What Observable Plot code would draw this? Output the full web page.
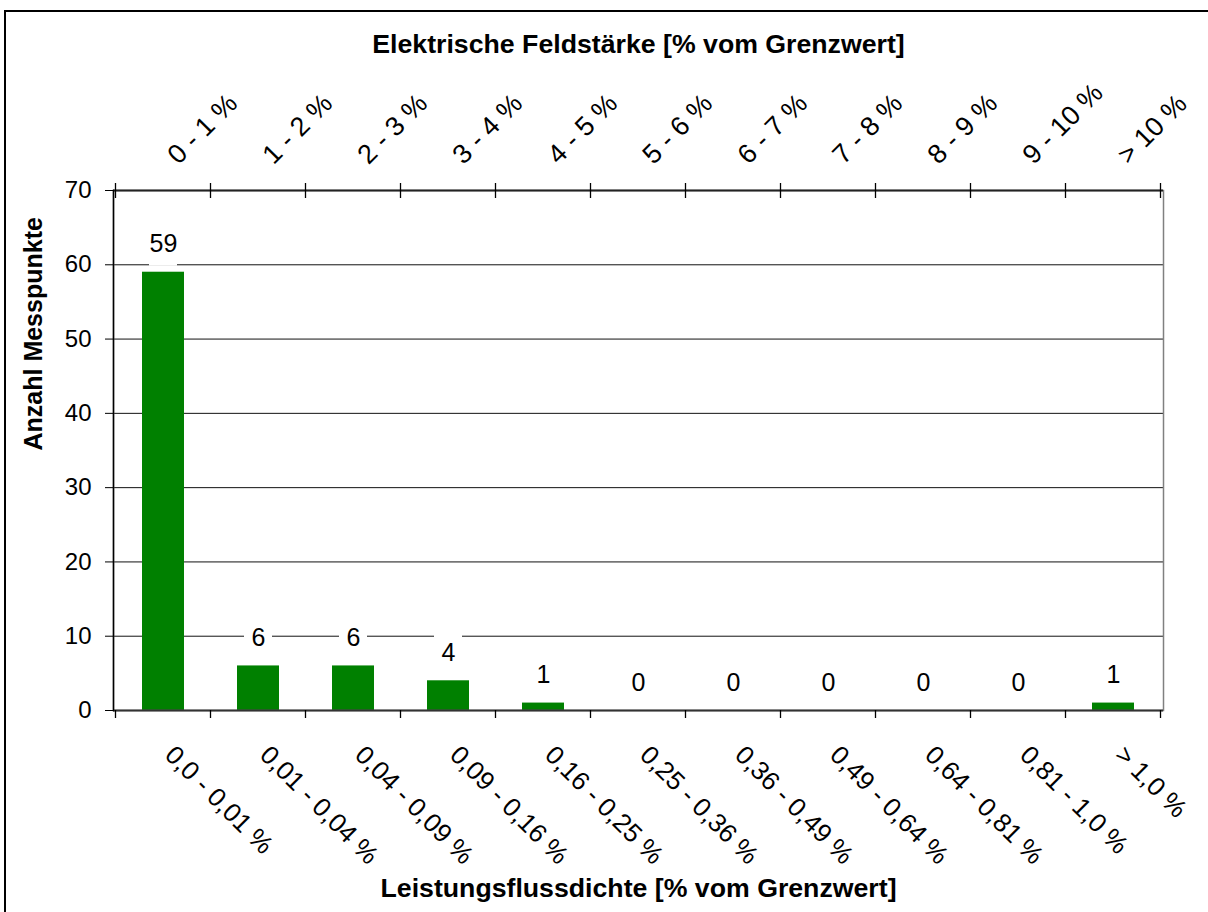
<!DOCTYPE html>
<html><head><meta charset="utf-8">
<script src="https://cdn.jsdelivr.net/npm/d3@7"></script>
<script src="https://cdn.jsdelivr.net/npm/@observablehq/plot@0.6"></script>
<style>
body{margin:0;background:#fff;overflow:hidden;}
#wrap{position:relative;width:1208px;height:912px;overflow:hidden;}
#border{position:absolute;left:4px;top:10px;width:1230px;height:940px;border:2px solid #000;box-sizing:border-box;pointer-events:none;z-index:2;}
</style></head><body><div id="wrap"><div id="border"></div></div>
<script>
const categories = ["0,0 - 0,01 %", "0,01 - 0,04 %", "0,04 - 0,09 %", "0,09 - 0,16 %", "0,16 - 0,25 %", "0,25 - 0,36 %", "0,36 - 0,49 %", "0,49 - 0,64 %", "0,64 - 0,81 %", "0,81 - 1,0 %", "> 1,0 %"];
const topLabels = ["0 - 1 %", "1 - 2 %", "2 - 3 %", "3 - 4 %", "4 - 5 %", "5 - 6 %", "6 - 7 %", "7 - 8 %", "8 - 9 %", "9 - 10 %", "> 10 %"];
const counts = [59, 6, 6, 4, 1, 0, 0, 0, 0, 0, 1];
const yTicks = [0, 10, 20, 30, 40, 50, 60, 70];
const topTitle = "Elektrische Feldstärke [% vom Grenzwert]";
const bottomTitle = "Leistungsflussdichte [% vom Grenzwert]";
const yTitle = "Anzahl Messpunkte";

const data = categories.map((c, i) => ({cat: c, top: topLabels[i], n: counts[i]}));
const FONT = "'Liberation Sans', Arial, Helvetica, sans-serif";

function boundaryTicks(index, scales, values, dims) {
  const x = scales.x;
  const step = x.step ? x.step() : (x(categories[1]) - x(categories[0]));
  const bw = x.bandwidth ? x.bandwidth() : 0;
  const edges = categories.map(c => x(c) + bw / 2 - step / 2);
  edges.push(x(categories[categories.length - 1]) + bw / 2 + step / 2);
  const top = dims.marginTop, bottom = dims.height - dims.marginBottom;
  const g = d3.create("svg:g").attr("stroke", "#000").attr("stroke-width", 1.3);
  for (const e of edges) {
    g.append("line").attr("x1", e).attr("x2", e).attr("y1", top - 7).attr("y2", top + 8);
    g.append("line").attr("x1", e).attr("x2", e).attr("y1", bottom).attr("y2", bottom + 8);
  }
  return g.node();
}

const chart = Plot.plot({
  width: 1208, height: 912,
  marginLeft: 113, marginRight: 45, marginTop: 190, marginBottom: 202,
  x: {domain: categories, paddingInner: 0.56, paddingOuter: 0.28, axis: null},
  y: {domain: [0, 70], axis: null},
  style: {fontFamily: FONT, color: "#000", background: "white", overflow: "visible"},
  marks: [
    Plot.ruleY(yTicks.slice(1, -1), {stroke: "#111", strokeWidth: 1}),
    Plot.barY(data, {x: "cat", y: "n", fill: "#008000"}),
    Plot.frame({stroke: "#808080", strokeWidth: 1.5}),
    Plot.ruleY([70], {stroke: "#222", strokeWidth: 2}),
    Plot.ruleY([0], {stroke: "#333", strokeWidth: 2}),
    Plot.frame({anchor: "left", stroke: "#000", strokeWidth: 1.5}),
    Plot.axisY({ticks: yTicks, tickSize: 8, tickPadding: 14, fontSize: 24, tickFormat: d => String(d), label: null}),
    boundaryTicks,
    Plot.text(data, {x: "cat", text: "cat", frameAnchor: "bottom", rotate: 45, textAnchor: "start", lineAnchor: "bottom", dy: 46, fontSize: 26}),
    Plot.text(data, {x: "cat", text: "top", frameAnchor: "top", rotate: -45, textAnchor: "start", lineAnchor: "bottom", dx: 15, dy: -25, fontSize: 27}),
    Plot.barY(data, {x: "cat", y1: "n", y2: "n", insetTop: -47, insetBottom: 6, insetLeft: 7, insetRight: 7, fill: "white"}),
    Plot.text(data, {x: "cat", y: "n", text: d => String(d.n), dy: -28, fontSize: 25, fill: "black", stroke: "white", strokeWidth: 10}),
    Plot.text([topTitle], {text: d => d, frameAnchor: "top", lineAnchor: "bottom", dy: -138, fontSize: 26.7, fontWeight: "bold"}),
    Plot.text([bottomTitle], {text: d => d, frameAnchor: "bottom", lineAnchor: "bottom", dy: 186, fontSize: 26.7, fontWeight: "bold"}),
    Plot.text([yTitle], {text: d => d, frameAnchor: "left", rotate: -90, dx: -80, fontSize: 25, fontWeight: "bold"})
  ]
});
document.getElementById("wrap").appendChild(chart);
</script>
</body></html>
